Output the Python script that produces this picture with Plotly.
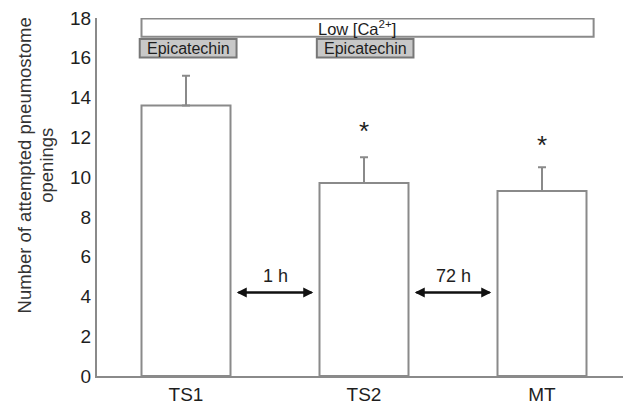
import plotly.graph_objects as go

categories = ["TS1", "TS2", "MT"]
means = [13.6, 9.7, 9.3]
err_plus = [1.5, 1.3, 1.2]
star_labels = ["", "*", "*"]
star_y = [None, 12.3, 11.6]
y_ticks = [0, 2, 4, 6, 8, 10, 12, 14, 16, 18]
y_title_lines = ["Number of attempted pneumostome", "openings"]
interval_labels = ["1 h", "72 h"]

GRAY = "#8a8a8a"
TXT = "#1e1e1e"
FONT = "Liberation Sans, Arial, sans-serif"

xs = list(range(len(categories)))

fig = go.Figure()
fig.add_trace(go.Bar(
    x=xs, y=means, width=0.5,
    marker=dict(color="white", line=dict(color=GRAY, width=2)),
    error_y=dict(type="data", symmetric=False, array=err_plus,
                 arrayminus=[0] * len(means), color=GRAY, thickness=2, width=4),
    showlegend=False, hoverinfo="skip",
))

# significance stars
for i, (s, yv) in enumerate(zip(star_labels, star_y)):
    if s:
        fig.add_annotation(x=i, y=yv, text=s, showarrow=False,
                           font=dict(size=26, color=TXT, family=FONT),
                           xref="x", yref="y")

# interval arrows between bars
for i, lab in enumerate(interval_labels):
    x0 = i + 0.285
    x1 = i + 0.715
    for (a, b) in [(x0, x1), (x1, x0)]:
        fig.add_annotation(x=a, y=4.2, ax=b, ay=4.2, xref="x", yref="y",
                           axref="x", ayref="y", text=" ", showarrow=True,
                           arrowhead=2, arrowsize=1.0, arrowwidth=2,
                           arrowcolor="#111111", font=dict(size=1))
    fig.add_annotation(x=i + 0.5, y=5.05, text=lab, showarrow=False,
                       font=dict(size=18, color=TXT, family=FONT),
                       xref="x", yref="y")

# condition boxes
fig.add_shape(type="rect", x0=-0.25, x1=2.29, y0=17.06, y1=17.97,
              xref="x", yref="y", line=dict(color=GRAY, width=2),
              fillcolor="white", layer="above")
fig.add_annotation(x=0.96, y=17.5, text="Low [Ca<sup>2+</sup>]", showarrow=False,
                   font=dict(size=16.5, color=TXT, family=FONT), xref="x", yref="y")
for i in [0, 1]:
    x0 = -0.26 if i == 0 else 0.735
    x1 = 0.284 if i == 0 else 1.278
    fig.add_shape(type="rect", x0=x0, x1=x1, y0=16.02, y1=16.95,
                  xref="x", yref="y", line=dict(color="#777777", width=2),
                  fillcolor="#c8c8c8", layer="above")
    fig.add_annotation(x=(x0 + x1) / 2, y=16.48, text="Epicatechin", showarrow=False,
                       font=dict(size=16, color=TXT, family=FONT), xref="x", yref="y")

# y title (two lines)
for xp, line in zip([-0.135, -0.095], y_title_lines):
    fig.add_annotation(x=xp, y=0.588, xref="paper", yref="paper", text=line,
                       textangle=-90, showarrow=False, xanchor="center", yanchor="middle",
                       font=dict(size=18.5, color="#333333", family=FONT))

# page has an 8px body margin: figure is offset by (8, 8) in the window
fig.update_layout(
    width=623, height=397,
    margin=dict(l=89, r=0, t=9, b=26),
    plot_bgcolor="white", paper_bgcolor="white",
    font=dict(family=FONT, size=18, color=TXT),
    bargap=0.5,
)
fig.update_xaxes(range=[-0.5, 2.5], tickvals=xs, ticktext=categories,
                 showline=True, linecolor=GRAY, linewidth=2, ticks="",
                 showgrid=False, zeroline=False, ticklabeloverflow="allow",
                 tickfont=dict(size=19, color=TXT))
fig.update_yaxes(range=[0, 18], tickvals=y_ticks, showline=True, linecolor=GRAY,
                 linewidth=2, ticks="", showgrid=False, zeroline=False,
                 ticklabeloverflow="allow", tickfont=dict(size=19, color=TXT))

fig.write_html("out.html")
